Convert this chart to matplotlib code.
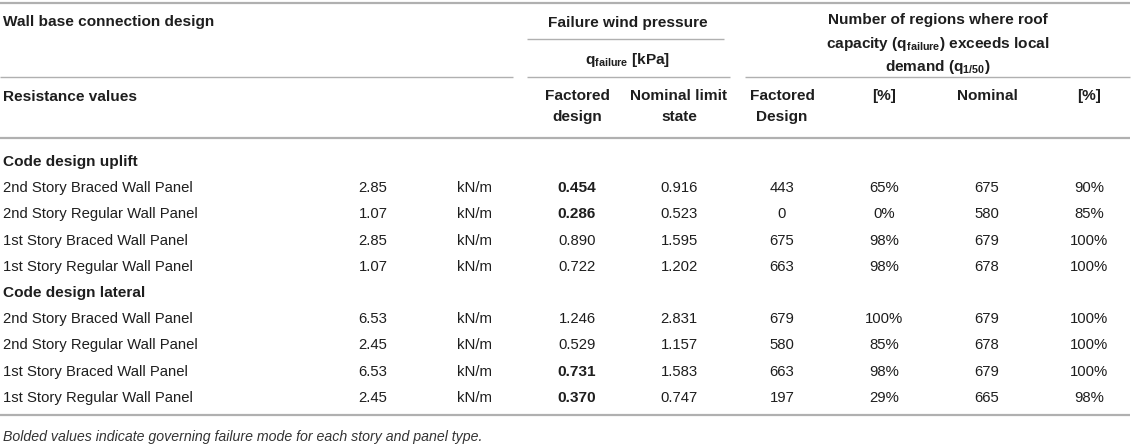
import matplotlib
matplotlib.use('Agg')
import matplotlib.pyplot as plt

plt.rcParams['font.family'] = ['Liberation Sans', 'DejaVu Sans']
plt.rcParams['mathtext.fontset'] = 'custom'
plt.rcParams['mathtext.rm'] = 'Liberation Sans'
plt.rcParams['mathtext.bf'] = 'Liberation Sans:bold'
plt.rcParams['mathtext.it'] = 'Liberation Sans:italic'

# table content
groups = ['Code design uplift', 'Code design lateral']
panels = ['2nd Story Braced Wall Panel', '2nd Story Regular Wall Panel',
          '1st Story Braced Wall Panel', '1st Story Regular Wall Panel']
resistance = ['2.85', '1.07', '2.85', '1.07', '6.53', '2.45', '6.53', '2.45']
units = ['kN/m'] * 8
q_factored = ['0.454', '0.286', '0.890', '0.722', '1.246', '0.529', '0.731', '0.370']
q_nominal = ['0.916', '0.523', '1.595', '1.202', '2.831', '1.157', '1.583', '0.747']
n_factored = ['443', '0', '675', '663', '679', '580', '663', '197']
pct_factored = ['65%', '0%', '98%', '98%', '100%', '85%', '98%', '29%']
n_nominal = ['675', '580', '679', '678', '679', '678', '679', '665']
pct_nominal = ['90%', '85%', '100%', '100%', '100%', '100%', '100%', '98%']
bold_factored = [True, True, False, False, False, False, True, True]
footnote = 'Bolded values indicate governing failure mode for each story and panel type.'

W, H = 1143, 447
fig = plt.figure(figsize=(W / 100, H / 100), dpi=100)
ax = fig.add_axes([0, 0, 1, 1])
ax.set_xlim(0, W)
ax.set_ylim(H, 0)
ax.axis('off')

fs = 10.7
fs_bold = 11.1
txt = '#1e1e1e'
rule = '#b0b0b0'

def hline(y, x0, x1, lw=1.0):
    ax.plot([x0, x1], [y, y], color=rule, lw=lw, solid_capstyle='butt')

def t(x, y, s, ha='center', weight='normal', **kw):
    size = fs_bold if weight == 'bold' else fs
    ax.text(x, y, s, ha=ha, va='center', fontsize=size, color=txt,
            fontweight=weight, **kw)

right = 1130
# rules
hline(3, 0, right, 1.6)
hline(39, 527, 724, 1.0)
hline(77, 0, 513, 1.0)
hline(77, 527, 730, 1.0)
hline(77, 745, right, 1.0)
hline(138, 0, right, 1.6)
hline(415, 0, right, 1.6)

# header
t(3, 22, 'Wall base connection design', ha='left', weight='bold')
t(628, 23, 'Failure wind pressure', weight='bold')
t(628, 60, r'q$_{\mathbf{failure}}$ [kPa]', weight='bold')
t(938, 20, 'Number of regions where roof', weight='bold')
t(938, 44, r'capacity (q$_{\mathbf{failure}}$) exceeds local', weight='bold')
t(938, 67, r'demand (q$_{\mathbf{1/50}}$)', weight='bold')
t(3, 97, 'Resistance values', ha='left', weight='bold')

cols = [373, 475, 577, 679, 782, 884, 987, 1089]
sub_heads = [None, None, 'Factored\ndesign', 'Nominal limit\nstate',
             'Factored\nDesign', '[%]', 'Nominal', '[%]']
for x, h in zip(cols, sub_heads):
    if h is None:
        continue
    lines = h.split('\n')
    for k, line in enumerate(lines):
        t(x, 96 + 21 * k, line, weight='bold')

# body
group_y = [162, 293]
row_step = 26.2
for g in range(2):
    t(3, group_y[g], groups[g], ha='left', weight='bold')
    for r in range(4):
        i = g * 4 + r
        y = group_y[g] + row_step * (r + 1)
        t(3, y, panels[r], ha='left')
        vals = [resistance[i], units[i], q_factored[i], q_nominal[i],
                n_factored[i], pct_factored[i], n_nominal[i], pct_nominal[i]]
        for c, (x, v) in enumerate(zip(cols, vals)):
            w = 'bold' if (c == 2 and bold_factored[i]) else 'normal'
            t(x, y, v, weight=w)

ax.text(3, 437, footnote, ha='left', va='center', fontsize=fs * 0.95,
        color='#333333', style='italic')

fig.savefig('out.png', dpi=100)
